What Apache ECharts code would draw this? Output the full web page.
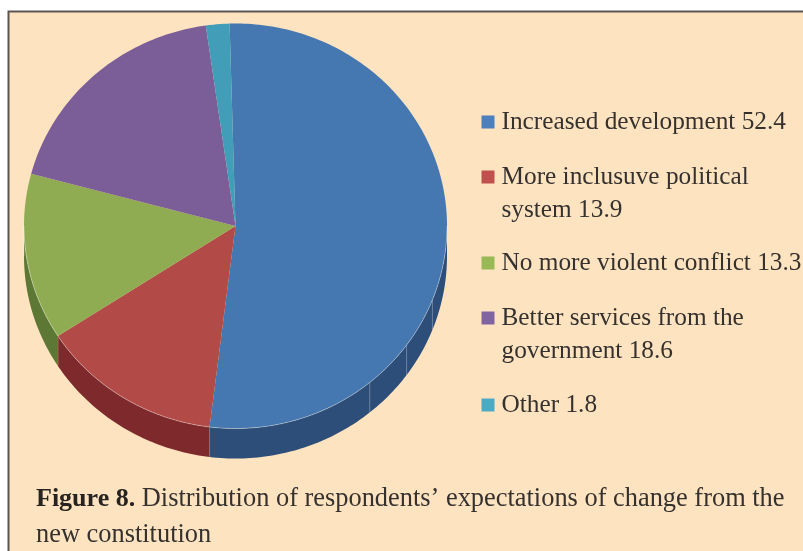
<!DOCTYPE html>
<html>
<head>
<meta charset="utf-8">
<style>
html, body { margin: 0; padding: 0; background: #fff; }
#main { width: 803px; height: 551px; }
</style>
</head>
<body>
<div id="main"></div>
<script src="https://cdn.jsdelivr.net/npm/echarts@6/dist/echarts.min.js"></script>
<script>
const names = [
  'Increased development',
  'More inclusuve political',
  'No more violent conflict',
  'Better services from the',
  'Other'
];
const secondLines = ['', 'system', '', 'government', ''];
const shares = [52.4, 13.9, 13.3, 18.6, 1.8];
const topColors = ['#4577b0', '#b24a48', '#8fac53', '#7b5d97', '#419db8'];
const sideColors = ['#2c4e78', '#7e2a2c', '#5c7834', '#4d3a63', '#2a6a7d'];
const legendColors = ['#4c80bc', '#c0504d', '#98b956', '#8064a2', '#4babc5'];
const legendTops = [103.5, 125.5, 244.5, 266.5, 386.5];

const FONT = '"Liberation Serif", serif';
const TEXT = '#35312e';
const cx = 235.5, cy = 226, rx = 211.5, ry = 202.5, depth = 30;
const startDeg = -1.6;
// faint joints in the extruded wall of the big slice
const seams = [111.4, 126, 140.6];

function rim(deg, drop) {
  const a = deg * Math.PI / 180;
  return [cx + rx * Math.sin(a), cy - ry * Math.cos(a) + (drop || 0)];
}

function arc(from, to, drop) {
  const pts = [];
  for (let d = from; d < to; d += 1) pts.push(rim(d, drop));
  pts.push(rim(to, drop));
  return pts;
}

function makeSlice(index, from) {
  return function (params, api) {
    const to = from + api.value(0) * 3.6;
    const children = [];
    const a = Math.max(from, 90), b = Math.min(to, 270);
    if (a < b) {
      const wall = arc(a, b, 0).concat(arc(a, b, depth).reverse());
      children.push({
        type: 'polygon',
        shape: { points: wall },
        style: { fill: sideColors[index] }
      });
      children.push({
        type: 'line',
        shape: { x1: rim(b)[0], y1: rim(b)[1], x2: rim(b, depth)[0], y2: rim(b, depth)[1] },
        style: { stroke: 'rgba(255,255,255,0.3)', lineWidth: 1 }
      });
    }
    if (index === 0) {
      seams.forEach(function (d) {
        children.push({
          type: 'line',
          shape: { x1: rim(d)[0], y1: rim(d)[1], x2: rim(d, depth)[0], y2: rim(d, depth)[1] },
          style: { stroke: 'rgba(255,255,255,0.3)', lineWidth: 1 }
        });
      });
    }
    children.push({
      type: 'polygon',
      shape: { points: [[cx, cy]].concat(arc(from, to, 0)) },
      style: { fill: topColors[index] }
    });
    if (a < b) {
      children.push({
        type: 'polyline',
        shape: { points: arc(a, b, 0) },
        style: { fill: 'none', stroke: 'rgba(255,255,255,0.35)', lineWidth: 1 }
      });
    }
    return { type: 'group', children: children };
  };
}

let running = startDeg;
const series = shares.map(function (v, i) {
  const s = {
    name: names[i],
    type: 'custom',
    coordinateSystem: 'none',
    animation: false,
    silent: true,
    itemStyle: { color: topColors[i] },
    data: [[v]],
    renderItem: makeSlice(i, running)
  };
  running += v * 3.6;
  return s;
});

const legends = names.map(function (n, i) {
  return {
    orient: 'vertical',
    left: 481.5,
    top: legendTops[i],
    padding: 0,
    icon: 'rect',
    itemWidth: 13,
    itemHeight: 13,
    selectedMode: false,
    data: [{ name: n, itemStyle: { color: legendColors[i] } }],
    formatter: function () {
      // a blank first line keeps the square level with the first line of a wrapped label
      if (secondLines[i]) return '\n' + n + '\n' + secondLines[i] + ' ' + shares[i];
      return n + ' ' + shares[i];
    },
    textStyle: {
      fontFamily: FONT,
      fontSize: 25.3,
      lineHeight: 33,
      color: TEXT,
      padding: [4, 0, 0, 2]
    }
  };
});

const chart = echarts.init(document.getElementById('main'), null, { renderer: 'canvas' });
chart.setOption({
  animation: false,
  backgroundColor: '#ffffff',
  graphic: [{
    type: 'rect',
    z: -10,
    silent: true,
    shape: { x: 8.5, y: 11.5, width: 900, height: 700 },
    style: { fill: '#fde3c0', stroke: '#5a5550', lineWidth: 2 }
  }],
  title: {
    left: 36,
    top: 481,
    padding: 0,
    text: '{b|Figure 8.} Distribution of respondents\u2019 expectations of change from the\nnew constitution',
    textStyle: {
      fontFamily: FONT,
      fontWeight: 'normal',
      fontSize: 26.4,
      lineHeight: 36,
      color: TEXT,
      rich: {
        b: { fontFamily: FONT, fontWeight: 'bold', fontSize: 26, lineHeight: 36, color: '#262321' }
      }
    }
  },
  legend: legends,
  series: series
});
</script>
</body>
</html>
